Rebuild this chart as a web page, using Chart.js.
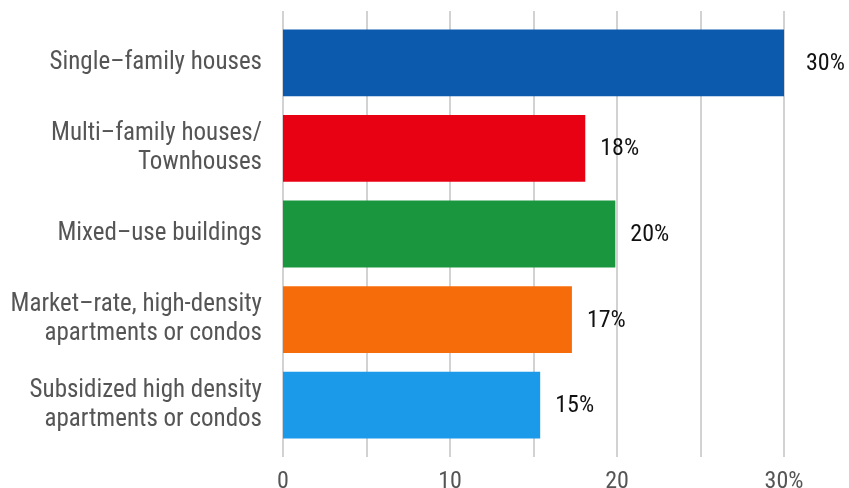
<!DOCTYPE html>
<html>
<head>
<meta charset="utf-8">
<script src="https://cdn.jsdelivr.net/npm/chart.js@4"></script>
<style>
  html, body { margin: 0; padding: 0; background: #fff; }
  #wrap { width: 849px; height: 488px; }
</style>
</head>
<body>
<div id="wrap"><canvas id="housingChart"></canvas></div>
<script>
const categories = [
  'Single\u2013family houses',
  ['Multi\u2013family houses/', 'Townhouses'],
  'Mixed\u2013use buildings',
  ['Market\u2013rate, high-density', 'apartments or condos'],
  ['Subsidized high density', 'apartments or condos']
];
const shares = [30, 18.1, 19.9, 17.3, 15.4];
const shareLabels = ['30%', '18%', '20%', '17%', '15%'];
const barColors = ['#0b5aad', '#e80013', '#1a973e', '#f76c0a', '#1b9ae9'];
const xTicks = [0, 5, 10, 15, 20, 25, 30];

const FONT = '"Roboto Condensed", "Liberation Sans Narrow", "DejaVu Sans Condensed", Roboto, sans-serif';

// vertical grid lines, drawn under the bars and a bit taller than the chart area
const gridLines = {
  id: 'gridLines',
  beforeDatasetsDraw(chart) {
    const {ctx, scales: {x}} = chart;
    ctx.save();
    ctx.strokeStyle = '#d2d2d2';
    ctx.lineWidth = 2;
    xTicks.forEach(v => {
      const px = Math.round(x.getPixelForValue(v));
      ctx.beginPath();
      ctx.moveTo(px, 11);
      ctx.lineTo(px, 457);
      ctx.stroke();
    });
    ctx.restore();
  }
};

// value labels to the right of each bar
const valueLabels = {
  id: 'valueLabels',
  afterDatasetsDraw(chart) {
    const {ctx} = chart;
    const meta = chart.getDatasetMeta(0);
    ctx.save();
    ctx.font = '24px ' + FONT;
    ctx.fillStyle = '#111';
    ctx.textAlign = 'left';
    ctx.textBaseline = 'middle';
    meta.data.forEach((bar, i) => {
      ctx.fillText(shareLabels[i], bar.x + (i === 0 ? 22 : 15), bar.y + 1);
    });
    ctx.restore();
  }
};

new Chart(document.getElementById('housingChart'), {
  type: 'bar',
  data: {
    labels: categories,
    datasets: [{
      data: shares,
      backgroundColor: barColors,
      borderWidth: 0,
      categoryPercentage: 0.78,
      barPercentage: 1
    }]
  },
  options: {
    indexAxis: 'y',
    responsive: true,
    maintainAspectRatio: false,
    animation: false,
    layout: { padding: { top: 20, right: 65, left: 0, bottom: 0 } },
    plugins: {
      legend: { display: false },
      tooltip: { enabled: false }
    },
    scales: {
      x: {
        min: 0,
        max: 30,
        afterBuildTicks(scale) { scale.ticks = xTicks.map(v => ({value: v})); },
        afterFit(scale) { scale.height = 40; scale.paddingLeft = 0; scale.paddingRight = 0; },
        grid: { display: false, drawTicks: false },
        border: { display: false },
        ticks: {
          padding: 20,
          maxRotation: 0,
          color: '#555',
          font: { size: 24, family: FONT },
          callback: v => v % 10 === 0 ? (v === 30 ? '30%' : String(v)) : ''
        }
      },
      y: {
        afterFit(scale) { scale.width = 283; scale.paddingTop = 0; scale.paddingBottom = 0; },
        grid: { display: false, drawTicks: false },
        border: { display: false },
        ticks: {
          padding: 21,
          color: '#555',
          font: { size: 25, family: FONT, lineHeight: 1.15 }
        }
      }
    }
  },
  plugins: [gridLines, valueLabels]
});
</script>
</body>
</html>
